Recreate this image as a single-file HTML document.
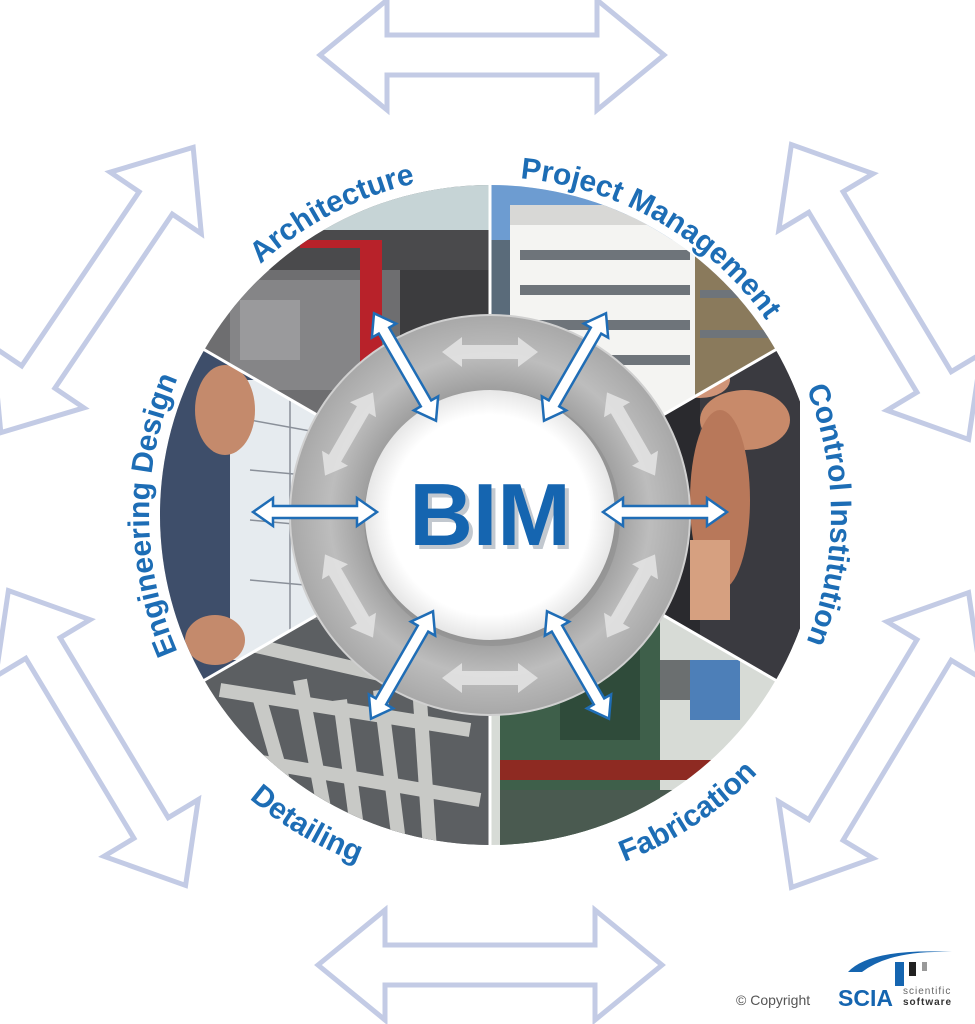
<!DOCTYPE html>
<html><head><meta charset="utf-8"><style>
html,body{margin:0;padding:0;background:#fff;}
svg{display:block;}
</style></head><body>
<svg width="975" height="1024" viewBox="0 0 975 1024" xmlns="http://www.w3.org/2000/svg" font-family="Liberation Sans, sans-serif">
<defs>
<g id="bigArrow">
<polygon points="-172,0 -105,-55 -105,-20 105,-20 105,-55 172,0 105,55 105,20 -105,20 -105,55" fill="#fff" stroke="#c3cbe5" stroke-width="5" stroke-linejoin="miter"/>
</g>
<g id="blueArrow">
<polygon points="-62,0 -42,-14 -42,-6 42,-6 42,-14 62,0 42,14 42,6 -42,6 -42,14" fill="#fff" stroke="#1f6db6" stroke-width="2.5"/>
</g>
<g id="greyArrow">
<polygon points="-48,0 -28,-15 -28,-7 28,-7 28,-15 48,0 28,15 28,7 -28,7 -28,15" fill="#e2e2e2" opacity="0.9"/>
</g>
<radialGradient id="ringG" cx="50%" cy="50%" r="50%">
<stop offset="60%" stop-color="#9a9a9a"/><stop offset="80%" stop-color="#bdbdbd"/><stop offset="100%" stop-color="#a8a8a8"/>
</radialGradient>
<radialGradient id="innerG" cx="50%" cy="50%" r="50%">
<stop offset="80%" stop-color="#ffffff"/><stop offset="100%" stop-color="#e6e6e6"/>
</radialGradient>
<clipPath id="cA"><path d="M490,515 L204.2,350 A330,330 0 0 1 490,185 Z"/></clipPath>
<clipPath id="cP"><path d="M490,515 L490,185 A330,330 0 0 1 775.8,350 Z"/></clipPath>
<clipPath id="cC"><path d="M490,515 L775.8,350 A330,330 0 0 1 775.8,680 Z"/></clipPath>
<clipPath id="cF"><path d="M490,515 L775.8,680 A330,330 0 0 1 490,845 Z"/></clipPath>
<clipPath id="cD"><path d="M490,515 L490,845 A330,330 0 0 1 204.2,680 Z"/></clipPath>
<clipPath id="cE"><path d="M490,515 L204.2,680 A330,330 0 0 1 204.2,350 Z"/></clipPath>
<path id="arcArch" d="M195.6,345 A340,340 0 0 1 490,175"/>
<path id="arcPM" d="M490,177 A338,338 0 0 1 782.7,346"/>
<path id="arcCI" d="M785.5,345 A341,341 0 0 1 785.5,685"/>
<path id="arcED" d="M194.5,685 A341,341 0 0 1 194.5,345"/>
<path id="arcDet" d="M168,701 A372,372 0 0 0 490,887"/>
<path id="arcFab" d="M490,887 A372,372 0 0 0 812,701"/>
</defs>

<use href="#bigArrow" transform="translate(492,55)"/>
<use href="#bigArrow" transform="translate(490,965)"/>
<use href="#bigArrow" transform="translate(97,290) rotate(-56)"/>
<use href="#bigArrow" transform="translate(97,738) rotate(59)"/>
<use href="#bigArrow" transform="translate(880,292) rotate(59)"/>
<use href="#bigArrow" transform="translate(880,740) rotate(-59)"/>

<g clip-path="url(#cA)">
<rect x="150" y="180" width="350" height="340" fill="#6e6e70"/>
<rect x="320" y="180" width="180" height="70" fill="#c6d4d6"/>
<rect x="250" y="230" width="250" height="40" fill="#4a4a4c"/>
<rect x="360" y="240" width="22" height="150" fill="#b8222a"/>
<rect x="300" y="240" width="60" height="8" fill="#b8222a"/>
<rect x="230" y="280" width="130" height="110" fill="#858587"/>
<rect x="400" y="270" width="90" height="90" fill="#3c3c3e"/>
<rect x="240" y="300" width="60" height="60" fill="#9a9a9c"/>
</g>
<g clip-path="url(#cP)">
<rect x="480" y="180" width="310" height="340" fill="#c8d9ea"/>
<rect x="480" y="180" width="310" height="60" fill="#6d9cd1"/>
<rect x="510" y="215" width="190" height="300" fill="#f4f4f2"/>
<rect x="510" y="205" width="180" height="20" fill="#d8d8d6"/>
<rect x="695" y="250" width="100" height="270" fill="#8a7a5c"/>
<g fill="#6e747a"><rect x="520" y="250" width="170" height="10"/><rect x="520" y="285" width="170" height="10"/><rect x="520" y="320" width="170" height="10"/><rect x="520" y="355" width="170" height="10"/><rect x="700" y="290" width="90" height="8"/><rect x="700" y="330" width="90" height="8"/></g>
<rect x="490" y="240" width="20" height="280" fill="#5a6b7a"/>
</g>
<g clip-path="url(#cC)">
<rect x="480" y="340" width="320" height="350" fill="#2a2a2e"/>
<rect x="700" y="340" width="100" height="350" fill="#3a3a40"/>
<ellipse cx="745" cy="420" rx="45" ry="30" fill="#c88a6a"/>
<ellipse cx="720" cy="500" rx="30" ry="90" fill="#b8785a"/>
<rect x="690" y="540" width="40" height="80" fill="#d6a080"/>
<ellipse cx="700" cy="380" rx="30" ry="18" fill="#d09478"/>
</g>
<g clip-path="url(#cF)">
<rect x="480" y="500" width="320" height="350" fill="#d7dbd6"/>
<rect x="500" y="620" width="160" height="230" fill="#3e5f4a"/>
<rect x="560" y="640" width="80" height="100" fill="#2f4b3a"/>
<rect x="500" y="760" width="290" height="20" fill="#8e2a22"/>
<rect x="500" y="790" width="290" height="60" fill="#4a5a50"/>
<rect x="690" y="660" width="50" height="60" fill="#4d7fb8"/>
<rect x="660" y="660" width="30" height="40" fill="#6b6f70"/>
</g>
<g clip-path="url(#cD)">
<rect x="180" y="500" width="320" height="350" fill="#7a7c7e"/>
<rect x="200" y="620" width="300" height="230" fill="#5c5f62"/>
<g stroke="#c8c9c6" stroke-width="14" fill="none">
<path d="M260,700 L300,840"/><path d="M300,680 L330,840"/><path d="M340,700 L360,850"/><path d="M380,690 L400,850"/><path d="M420,700 L430,850"/><path d="M220,690 L470,730"/><path d="M230,640 L450,690"/><path d="M250,760 L480,800"/>
</g>
</g>
<g clip-path="url(#cE)">
<rect x="150" y="340" width="350" height="360" fill="#b9c3cc"/>
<rect x="160" y="340" width="110" height="360" fill="#3e4e6a"/>
<rect x="230" y="380" width="150" height="280" fill="#e6ebef"/>
<g stroke="#8a9099" stroke-width="1.5"><path d="M250,420 L360,440"/><path d="M250,470 L360,480"/><path d="M250,520 L360,530"/><path d="M250,580 L360,590"/><path d="M290,400 L290,650"/><path d="M330,410 L330,650"/></g>
<ellipse cx="225" cy="410" rx="30" ry="45" fill="#c48a6c"/>
<ellipse cx="215" cy="640" rx="30" ry="25" fill="#c48a6c"/>
</g>
<g stroke="#fff" stroke-width="3">
<line x1="490" y1="515" x2="490" y2="183"/><line x1="490" y1="515" x2="777" y2="349"/><line x1="490" y1="515" x2="777" y2="681"/>
<line x1="490" y1="515" x2="490" y2="847"/><line x1="490" y1="515" x2="203" y2="681"/><line x1="490" y1="515" x2="203" y2="349"/>
</g>

<circle cx="490" cy="515" r="200" fill="url(#ringG)"/>
<circle cx="490" cy="515" r="200" fill="none" stroke="#d0d0d0" stroke-width="2"/>
<circle cx="492" cy="518" r="128" fill="#8a8a8a" opacity="0.5"/>
<circle cx="490" cy="515" r="125" fill="url(#innerG)"/>

<use href="#greyArrow" transform="translate(490,352)"/>
<use href="#greyArrow" transform="translate(631,434) rotate(60)"/>
<use href="#greyArrow" transform="translate(631,596) rotate(-60)"/>
<use href="#greyArrow" transform="translate(490,678)"/>
<use href="#greyArrow" transform="translate(349,596) rotate(60)"/>
<use href="#greyArrow" transform="translate(349,434) rotate(-60)"/>

<use href="#blueArrow" transform="translate(405,367) rotate(60)"/>
<use href="#blueArrow" transform="translate(575,367) rotate(-60)"/>
<use href="#blueArrow" transform="translate(665,512)"/>
<use href="#blueArrow" transform="translate(578,665) rotate(60)"/>
<use href="#blueArrow" transform="translate(402,665) rotate(-60)"/>
<use href="#blueArrow" transform="translate(315,512)"/>

<text x="494" y="549" text-anchor="middle" font-size="88" font-weight="bold" fill="#9aa4b0" opacity="0.6">BIM</text>
<text x="490" y="545" text-anchor="middle" font-size="88" font-weight="bold" fill="#1565b0">BIM</text>

<g font-size="30" font-weight="bold" fill="#1d6db5">
<text><textPath href="#arcArch" startOffset="54%" text-anchor="middle">Architecture</textPath></text>
<text><textPath href="#arcPM" startOffset="50%" text-anchor="middle">Project Management</textPath></text>
<text><textPath href="#arcCI" startOffset="50%" text-anchor="middle">Control Institution</textPath></text>
<text><textPath href="#arcED" startOffset="50%" text-anchor="middle">Engineering Design</textPath></text>
<text><textPath href="#arcDet" startOffset="49%" text-anchor="middle">Detailing</textPath></text>
<text><textPath href="#arcFab" startOffset="56%" text-anchor="middle">Fabrication</textPath></text>
</g>

<path d="M848,972 Q870,948 952,952 Q890,950 862,972 Z" fill="#1565b0"/>
<rect x="895" y="962" width="9" height="24" fill="#1565b0"/>
<rect x="909" y="962" width="7" height="14" fill="#222"/>
<rect x="922" y="962" width="5" height="9" fill="#999"/>
<text x="736" y="1005" font-size="14" fill="#555">© Copyright</text>
<text x="838" y="1006" font-size="23" font-weight="bold" fill="#1565b0">SCIA</text>
<text x="903" y="994" font-size="10" fill="#666" letter-spacing="1">scientific</text>
<text x="903" y="1005" font-size="10" font-weight="bold" fill="#333" letter-spacing="1">software</text>
</svg>
</body></html>
